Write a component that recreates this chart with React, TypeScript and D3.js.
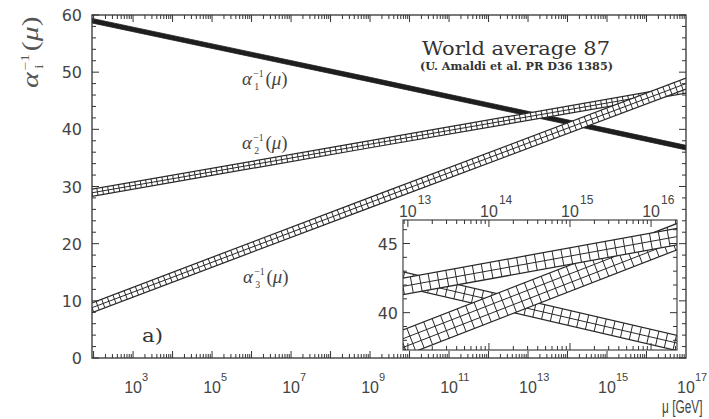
import React from "react";
import * as d3 from "d3";

// ---- Data ----
const muMain = [91.2, 1e9, 1e17];
const alpha1Inv = [59.0, 48.7, 36.8];
const alpha2Inv = [28.9, 37.4, 47.0];
const alpha3Inv = [8.8, 27.2, 48.0];
const alpha1Err = [0.4, 0.4, 0.4];
const alpha2Err = [0.62, 0.62, 0.68];
const alpha3Err = [0.85, 0.9, 0.95];

const muInset = [8.7e12, 2.1e16];
const inset1 = [42.4, 37.8];
const inset2 = [41.9, 45.5];
const inset3 = [37.8, 45.5];
const inset1Err = [0.55, 0.55];
const inset2Err = [0.6, 0.6];
const inset3Err = [0.95, 0.95];

const mainXTickExps = [3, 5, 7, 9, 11, 13, 15, 17];
const mainYTicks = [0, 10, 20, 30, 40, 50, 60];
const insetXTickExps = [13, 14, 15, 16];
const insetYTicks = [40, 45];

// ---- Layout ----
const W = 709, H = 419;
const MX0 = 92, MX1 = 686, MY0 = 358, MY1 = 15;
const IX0 = 403, IX1 = 677, IY0 = 350, IY1 = 220;

const x = d3.scaleLog().domain([91.2, 1e17]).range([MX0, MX1]);
const y = d3.scaleLinear().domain([0, 60]).range([MY0, MY1]);
const ix = d3.scaleLog().domain([Math.pow(10, 12.94), Math.pow(10, 16.32)]).range([IX0, IX1]);
const iy = d3.scaleLinear().domain([37.3, 46.7]).range([IY0, IY1]);

const INK = "#2a2a2a";
const TXT = "#444";

type Pt = { px: number; c: number; h: number };

function bandGeom(mus: number[], vals: number[], errs: number[], sx: any, sy: any, nAcross: number, step: number) {
  const pts: Pt[] = mus.map((m, i) => ({
    px: sx(m),
    c: sy(vals[i]),
    h: Math.abs(sy(vals[i] + errs[i]) - sy(vals[i])),
  }));
  const line = d3.line();
  const longi: string[] = [];
  for (let k = 0; k <= nAcross; k++) {
    const f = -1 + (2 * k) / nAcross;
    longi.push(line(pts.map((p) => [p.px, p.c + f * p.h] as [number, number])) || "");
  }
  const poly: [number, number][] = pts
    .map((p) => [p.px, p.c - p.h] as [number, number])
    .concat(pts.slice().reverse().map((p) => [p.px, p.c + p.h] as [number, number]));
  const cross: string[] = [];
  let carry = 0;
  for (let i = 0; i < pts.length - 1; i++) {
    const a = pts[i], b = pts[i + 1];
    const dx = b.px - a.px, dy = b.c - a.c;
    const len = Math.hypot(dx, dy);
    const ux = dx / len, uy = dy / len;
    const nx = -uy, ny = ux;
    const cosT = dx / len;
    let s = carry;
    while (s <= len) {
      const t = s / len;
      const cx = a.px + dx * t, cy = a.c + dy * t;
      const h = (a.h + (b.h - a.h) * t) * cosT;
      cross.push(`M${cx - nx * h},${cy - ny * h}L${cx + nx * h},${cy + ny * h}`);
      s += step;
    }
    carry = s - len;
  }
  return { longi, poly, cross: cross.join("") };
}

function HatchBand(props: { g: ReturnType<typeof bandGeom>; sw?: number }) {
  const { g, sw = 1 } = props;
  return (
    <g fill="none" stroke={INK} strokeWidth={sw}>
      <path d={"M" + g.poly.map((p) => p.join(",")).join("L") + "Z"} fill="#fff" stroke="none" />
      {g.longi.map((d, i) => (
        <path key={i} d={d} strokeWidth={i === 0 || i === g.longi.length - 1 ? sw * 1.25 : sw} />
      ))}
      <path d={g.cross} strokeWidth={sw} />
    </g>
  );
}

function AlphaLabel(props: { s: number; sub: string; fill?: string }) {
  const { s, sub, fill = TXT } = props;
  return (
    <g fill={fill} fontFamily="'Liberation Serif', 'DejaVu Serif', serif">
      <text x={0} y={0} fontSize={s * 1.05} fontStyle="italic">α</text>
      <text x={0.62 * s} y={-0.44 * s} fontSize={0.55 * s}>−1</text>
      <text x={0.68 * s} y={0.26 * s} fontSize={0.55 * s}>{sub}</text>
      <text x={1.3 * s} y={0} fontSize={s * 1.05}>
        (<tspan fontStyle="italic">μ</tspan>)
      </text>
    </g>
  );
}

function logTicks(sx: any, lo: number, hi: number) {
  const out: { v: number; major: boolean }[] = [];
  const [d0, d1] = sx.domain();
  for (let e = lo; e <= hi; e++) {
    for (let m = 1; m <= 9; m++) {
      const v = m * Math.pow(10, e);
      if (v >= d0 * 1.0001 && v <= d1 * 0.9999) out.push({ v, major: m === 1 });
    }
  }
  return out;
}

export default function App() {
  const b1 = bandGeom(muMain, alpha1Inv, alpha1Err, x, y, 1, 1000);
  const b2 = bandGeom(muMain, alpha2Inv, alpha2Err, x, y, 2, 5.5);
  const b3 = bandGeom(muMain, alpha3Inv, alpha3Err, x, y, 2, 6);
  const i1 = bandGeom(muInset, inset1, inset1Err, ix, iy, 2, 9);
  const i2 = bandGeom(muInset, inset2, inset2Err, ix, iy, 2, 9);
  const i3 = bandGeom(muInset, inset3, inset3Err, ix, iy, 3, 9);

  const mainLogT = logTicks(x, 1, 17);
  const insetLogT = logTicks(ix, 12, 16);
  const mainYMinor = d3.range(0, 61, 2);
  const insetYMinor = d3.range(38, 47, 1);

  return (
    <svg width={W} height={H} style={{ position: "absolute", left: 0, top: 0, background: "#fff" }}>
      <defs>
        <clipPath id="mainClip">
          <rect x={MX0} y={MY1} width={MX1 - MX0} height={MY0 - MY1} />
        </clipPath>
        <clipPath id="insetClip">
          <rect x={IX0} y={IY1} width={IX1 - IX0} height={IY0 - IY1} />
        </clipPath>
      </defs>
      <rect x={0} y={0} width={W} height={H} fill="#fff" />

      {/* main bands */}
      <g clipPath="url(#mainClip)">
        <path d={"M" + b1.poly.map((p) => p.join(",")).join("L") + "Z"} fill="#1e1e1e" stroke="#1e1e1e" strokeWidth={0.8} />
        <HatchBand g={b2} sw={1} />
        <HatchBand g={b3} sw={1} />
      </g>

      {/* main frame */}
      <rect x={MX0} y={MY1} width={MX1 - MX0} height={MY0 - MY1} fill="none" stroke="#333" strokeWidth={1.3} />
      <g stroke="#333" strokeWidth={1}>
        {mainLogT.map((t, i) => {
          const px = x(t.v);
          const L = t.major ? 7 : 4;
          return (
            <g key={i}>
              <line x1={px} x2={px} y1={MY0} y2={MY0 - L} />
              <line x1={px} x2={px} y1={MY1} y2={MY1 + L} />
            </g>
          );
        })}
        {mainYMinor.map((v) => {
          const py = y(v);
          const L = v % 10 === 0 ? 7 : 4;
          return (
            <g key={v}>
              <line x1={MX0} x2={MX0 + L} y1={py} y2={py} />
              <line x1={MX1} x2={MX1 - L} y1={py} y2={py} />
            </g>
          );
        })}
      </g>

      {/* main tick labels */}
      <g fill={TXT} fontFamily="'Liberation Sans', Arial, sans-serif">
        {mainXTickExps.map((e) => {
          const px = x(Math.pow(10, e));
          return (
            <g key={e}>
              <text x={px} y={393} fontSize={16} textAnchor="middle">10</text>
              <text x={px + 9} y={381} fontSize={11}>{e}</text>
            </g>
          );
        })}
        {mainYTicks.map((v) => (
          <text key={v} x={82} y={y(v) + 6} fontSize={16} textAnchor="end" fontFamily="'DejaVu Sans', sans-serif">
            {v}
          </text>
        ))}
      </g>

      {/* in-plot labels */}
      <g transform="translate(242,85)"><AlphaLabel s={18} sub="1" /></g>
      <g transform="translate(242,149)"><AlphaLabel s={18} sub="2" /></g>
      <g transform="translate(243,283)"><AlphaLabel s={18} sub="3" /></g>

      <text x={422} y={55} fontSize={19} fill="#333" fontFamily="'DejaVu Serif', serif" textLength={188} lengthAdjust="spacingAndGlyphs">
        World average 87
      </text>
      <text x={420} y={70} fontSize={11} fill="#333" fontWeight="bold" fontFamily="'DejaVu Serif', serif" textLength={193} lengthAdjust="spacingAndGlyphs">
        (U. Amaldi et al. PR D36 1385)
      </text>
      <text x={142} y={342} fontSize={19} fill="#333" fontFamily="'DejaVu Serif', serif" textLength={21} lengthAdjust="spacingAndGlyphs">
        a)
      </text>

      {/* y axis title */}
      <g transform="translate(38,88) rotate(-90) scale(1.35,1)">
        <AlphaLabel s={21} sub="i" fill="#555" />
      </g>

      {/* x axis title */}
      <g transform="translate(662,413) scale(0.66,1)">
        <text x={0} y={0} fontSize={18} fill={TXT} fontFamily="'Liberation Sans', Arial, sans-serif">
          μ [GeV]
        </text>
      </g>

      {/* inset */}
      <rect x={IX0} y={IY1} width={IX1 - IX0} height={IY0 - IY1} fill="#fff" />
      <g clipPath="url(#insetClip)">
        <HatchBand g={i1} sw={1} />
        <HatchBand g={i3} sw={1} />
        <HatchBand g={i2} sw={1} />
      </g>
      <rect x={IX0} y={IY1} width={IX1 - IX0} height={IY0 - IY1} fill="none" stroke="#333" strokeWidth={1.1} />
      <g stroke="#333" strokeWidth={1}>
        {insetLogT.map((t, i) => {
          const px = ix(t.v);
          const L = t.major ? 7 : 4;
          return (
            <g key={i}>
              <line x1={px} x2={px} y1={IY0} y2={IY0 - L} />
              <line x1={px} x2={px} y1={IY1} y2={IY1 + L} />
            </g>
          );
        })}
        {insetYMinor.map((v) => {
          const py = iy(v);
          const L = v % 5 === 0 ? 7 : 4;
          return (
            <g key={v}>
              <line x1={IX0} x2={IX0 + L} y1={py} y2={py} />
              <line x1={IX1} x2={IX1 - L} y1={py} y2={py} />
            </g>
          );
        })}
      </g>
      <g fill={TXT} fontFamily="'Liberation Sans', Arial, sans-serif">
        {insetXTickExps.map((e) => {
          const px = ix(Math.pow(10, e));
          return (
            <g key={e}>
              <text x={px} y={217} fontSize={16} textAnchor="middle">10</text>
              <text x={px + 10} y={204} fontSize={12}>{e}</text>
            </g>
          );
        })}
        {insetYTicks.map((v) => (
          <text key={v} x={398} y={iy(v) + 6} fontSize={16} textAnchor="end" fontFamily="'DejaVu Sans', sans-serif">
            {v}
          </text>
        ))}
      </g>
    </svg>
  );
}
